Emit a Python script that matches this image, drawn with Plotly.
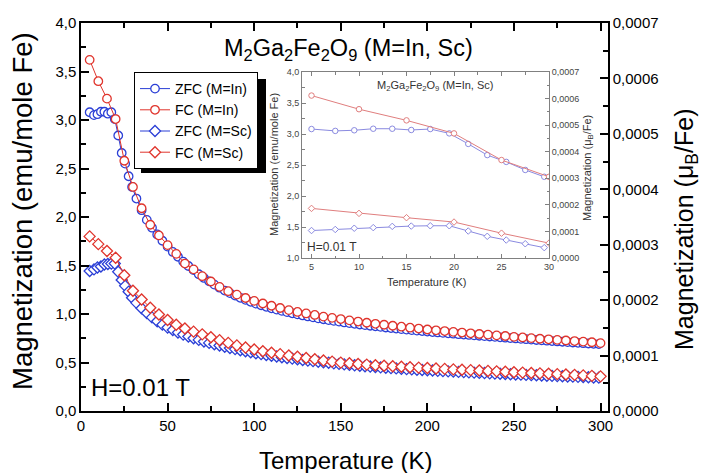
import plotly.graph_objects as go

# ---------------- data ----------------
T_fc = [5, 10, 15, 20, 25, 30, 35, 40, 45, 50, 55, 60, 65, 70, 75, 80, 85, 90, 95, 100,
        105, 110, 115, 120, 125, 130, 135, 140, 145, 150, 155, 160, 165, 170, 175, 180, 185, 190, 195, 200,
        205, 210, 215, 220, 225, 230, 235, 240, 245, 250, 255, 260, 265, 270, 275, 280, 285, 290, 295, 300]

fc_in = [3.62, 3.40, 3.22, 3.01, 2.58, 2.31, 2.09, 1.92, 1.81, 1.71, 1.62, 1.52, 1.46, 1.39, 1.335, 1.28, 1.235, 1.20, 1.165, 1.135,
         1.108, 1.085, 1.062, 1.040, 1.021, 1.006, 0.990, 0.973, 0.960, 0.948, 0.934, 0.922, 0.910, 0.899, 0.889, 0.879, 0.869, 0.859, 0.850, 0.840,
         0.832, 0.824, 0.816, 0.809, 0.801, 0.794, 0.787, 0.780, 0.773, 0.764, 0.758, 0.751, 0.745, 0.739, 0.733, 0.727, 0.721, 0.715, 0.709, 0.700]

fc_sc = [1.80, 1.72, 1.65, 1.58, 1.40, 1.24, 1.15, 1.065, 0.995, 0.938, 0.889, 0.850, 0.818, 0.790, 0.760, 0.730, 0.702, 0.676, 0.654, 0.634,
         0.616, 0.600, 0.586, 0.572, 0.559, 0.546, 0.533, 0.520, 0.509, 0.499, 0.492, 0.484, 0.478, 0.472, 0.466, 0.461, 0.456, 0.451, 0.447, 0.443,
         0.438, 0.434, 0.429, 0.425, 0.421, 0.417, 0.413, 0.409, 0.405, 0.400, 0.396, 0.392, 0.388, 0.384, 0.380, 0.376, 0.372, 0.367, 0.362, 0.357]

T_zfc = [5, 7.5, 9.5, 11.5, 13.5, 15.5, 17.5, 19.5, 21.5, 23.5, 25.5, 27.5, 29.5,
         32, 35, 38, 41, 44, 47, 50, 53, 56, 59,
         62, 65, 68, 71, 74, 77, 80, 83, 86, 89,
         92, 95, 98, 101, 104, 107, 110, 113, 116, 119,
         122, 125, 128, 131, 134, 137, 140, 143, 146, 149,
         152, 155, 158, 161, 164, 167, 170, 173, 176, 179,
         182, 185, 188, 191, 194, 197, 200, 203, 206, 209,
         212, 215, 218, 221, 224, 227, 230, 233, 236, 239,
         242, 245, 248, 251, 254, 257, 260, 263, 266, 269,
         272, 275, 278, 281, 284, 287, 290, 293, 296, 299]

zfc_in = [3.08, 3.05, 3.06, 3.085, 3.085, 3.065, 3.08, 3.01, 2.84, 2.66, 2.55, 2.42, 2.31,
          2.19, 2.07, 1.97, 1.89, 1.82, 1.755, 1.695, 1.64, 1.59, 1.54,
          1.495, 1.452, 1.41, 1.372, 1.337, 1.303, 1.271, 1.242, 1.215, 1.19,
          1.167, 1.146, 1.126, 1.107, 1.09, 1.074, 1.059, 1.045, 1.032, 1.019,
          1.007, 0.996, 0.985, 0.975, 0.965, 0.955, 0.946, 0.937, 0.929, 0.921,
          0.913, 0.906, 0.899, 0.892, 0.885, 0.879, 0.873, 0.867, 0.861, 0.855,
          0.85, 0.844, 0.839, 0.834, 0.829, 0.824, 0.819, 0.814, 0.81, 0.805,
          0.801, 0.797, 0.792, 0.788, 0.784, 0.78, 0.776, 0.772, 0.768, 0.764,
          0.76, 0.756, 0.752, 0.748, 0.744, 0.74, 0.736, 0.732, 0.728, 0.725,
          0.721, 0.717, 0.714, 0.71, 0.706, 0.703, 0.699, 0.696, 0.693, 0.69]

zfc_sc = [1.443, 1.46, 1.48, 1.49, 1.51, 1.515, 1.52, 1.52, 1.435, 1.35, 1.29, 1.23, 1.167,
          1.115, 1.06, 1.01, 0.965, 0.925, 0.89, 0.86, 0.835, 0.81, 0.788,
          0.768, 0.75, 0.733, 0.717, 0.702, 0.688, 0.675, 0.662, 0.65, 0.638,
          0.627, 0.616, 0.606, 0.596, 0.587, 0.578, 0.57, 0.562, 0.554, 0.547,
          0.54, 0.533, 0.526, 0.52, 0.514, 0.508, 0.502, 0.497, 0.491, 0.486,
          0.481, 0.476, 0.471, 0.467, 0.462, 0.458, 0.454, 0.45, 0.446, 0.442,
          0.439, 0.435, 0.432, 0.429, 0.426, 0.423, 0.42, 0.417, 0.414, 0.411,
          0.409, 0.406, 0.403, 0.401, 0.398, 0.396, 0.393, 0.391, 0.388, 0.386,
          0.384, 0.381, 0.379, 0.377, 0.375, 0.372, 0.37, 0.368, 0.366, 0.364,
          0.362, 0.36, 0.358, 0.356, 0.354, 0.352, 0.35, 0.348, 0.346, 0.344]

x_ticks = [0, 50, 100, 150, 200, 250, 300]
inset_x_ticks = [5, 10, 15, 20, 25, 30]
INSET_TMAX = 30

# ---------------- styling ----------------
FONT = "Liberation Sans, Arial, sans-serif"
BLUE = "#2b3fd6"
RED = "#e0342c"
IBLUE = "#8a8ae0"
IRED = "#e07e7e"
IGRAY = "#808080"

fig = go.Figure()

def main_trace(x, y, color, symbol, size, name):
    fig.add_trace(go.Scatter(
        x=x, y=y, name=name, mode="lines+markers",
        line=dict(color=color, width=1),
        marker=dict(symbol=symbol, size=size, color="white",
                    line=dict(color=color, width=1.3)),
        xaxis="x", yaxis="y"))

main_trace(T_zfc, zfc_in, BLUE, "circle", 8.5, "ZFC (M=In)")
main_trace(T_fc, fc_in, RED, "circle", 8.5, "FC (M=In)")
main_trace(T_zfc, zfc_sc, BLUE, "diamond", 8.5, "ZFC (M=Sc)")
main_trace(T_fc, fc_sc, RED, "diamond", 8.5, "FC (M=Sc)")

# helper so the right axes are drawn
fig.add_trace(go.Scatter(x=[None], y=[None], xaxis="x", yaxis="y2", showlegend=False, hoverinfo="skip"))
fig.add_trace(go.Scatter(x=[None], y=[None], xaxis="x3", yaxis="y4", showlegend=False, hoverinfo="skip"))

def sub(xs, ys):
    pts = [(a, b) for a, b in zip(xs, ys) if a <= INSET_TMAX]
    return [p[0] for p in pts], [p[1] for p in pts]

def inset_trace(x, y, color, symbol, size):
    xs, ys = sub(x, y)
    fig.add_trace(go.Scatter(
        x=xs, y=ys, mode="lines+markers", showlegend=False,
        line=dict(color=color, width=1),
        marker=dict(symbol=symbol, size=size, color="white",
                    line=dict(color=color, width=1)),
        xaxis="x3", yaxis="y3"))

inset_trace(T_zfc, zfc_in, IBLUE, "circle", 5.5)
inset_trace(T_fc, fc_in, IRED, "circle", 5.5)
inset_trace(T_zfc, zfc_sc, IBLUE, "diamond", 5)
inset_trace(T_fc, fc_sc, IRED, "diamond", 5)

L, R, T, B = 81, 93, 23, 62
W, H = 701, 473
pw, ph = W - L - R, H - T - B

def px(x):
    return (x - L) / pw

def py(y):
    return (H - B - y) / ph

tickfont = dict(family=FONT, size=15, color="black")
itick = dict(family=FONT, size=9, color="#444444")

fig.update_layout(
    width=W, height=H,
    margin=dict(l=L, r=R, t=T, b=B, autoexpand=False),
    paper_bgcolor="white", plot_bgcolor="white",
    separators=",.",
    font=dict(family=FONT, color="black"),
    showlegend=True,
    legend=dict(x=px(134), y=py(72), xanchor="left", yanchor="top",
                bgcolor="white", bordercolor="black", borderwidth=1,
                font=dict(family=FONT, size=14, color="black"),
                tracegroupgap=0, itemwidth=30),
    xaxis=dict(domain=[0, 1], range=[0, 304.3], anchor="y",
               tickvals=x_ticks, ticks="inside", ticklen=8, tickwidth=1.5,
               tickcolor="black", showline=True, linecolor="black", linewidth=1.5,
               mirror="ticks", showgrid=False, zeroline=False, tickfont=tickfont,
               minor=dict(tickvals=[25, 75, 125, 175, 225, 275], ticks="inside", ticklen=5,
                          tickwidth=1.5, tickcolor="black", showgrid=False)),
    yaxis=dict(domain=[0, 1], range=[0, 4], anchor="x",
               dtick=0.5, tick0=0, tickformat=".1f", ticks="inside", ticklen=8, tickwidth=1.5,
               tickcolor="black", showline=True, linecolor="black", linewidth=1.5,
               showgrid=False, zeroline=False, tickfont=tickfont,
               minor=dict(dtick=0.25, tick0=0, ticks="inside", ticklen=5, tickwidth=1.5,
                          tickcolor="black", showgrid=False)),
    yaxis2=dict(overlaying="y", side="right", anchor="x", range=[0, 0.0007],
                dtick=0.0001, tick0=0, tickformat=".4f", ticks="inside", ticklen=8, tickwidth=1.5,
                tickcolor="black", showline=True, linecolor="black", linewidth=1.5,
                showgrid=False, zeroline=False, tickfont=tickfont,
                minor=dict(dtick=0.00005, tick0=0, ticks="inside", ticklen=5, tickwidth=1.5,
                           tickcolor="black", showgrid=False)),
    xaxis3=dict(domain=[px(302), px(549)], range=[4, 30], anchor="y3",
                tickvals=inset_x_ticks, ticks="inside", ticklen=4, tickwidth=1,
                tickcolor=IGRAY, showline=True, linecolor=IGRAY, linewidth=1,
                mirror="ticks", showgrid=False, zeroline=False, tickfont=itick,
                minor=dict(tickvals=[7.5, 12.5, 17.5, 22.5, 27.5], ticks="inside", ticklen=2.5,
                           tickwidth=1, tickcolor=IGRAY, showgrid=False)),
    yaxis3=dict(domain=[py(258), py(72)], range=[1, 4], anchor="x3",
                dtick=0.5, tick0=0, tickformat=".1f", ticks="inside", ticklen=4, tickwidth=1,
                tickcolor=IGRAY, showline=True, linecolor=IGRAY, linewidth=1,
                showgrid=False, zeroline=False, tickfont=itick,
                minor=dict(dtick=0.25, tick0=0, ticks="inside", ticklen=2.5, tickwidth=1,
                           tickcolor=IGRAY, showgrid=False)),
    yaxis4=dict(overlaying="y3", side="right", anchor="x3", range=[0, 0.0007],
                dtick=0.0001, tick0=0, tickformat=".4f", ticks="inside", ticklen=4, tickwidth=1,
                tickcolor=IGRAY, showline=True, linecolor=IGRAY, linewidth=1,
                showgrid=False, zeroline=False, tickfont=itick,
                minor=dict(dtick=0.00005, tick0=0, ticks="inside", ticklen=2.5, tickwidth=1,
                           tickcolor=IGRAY, showgrid=False)),
)

# legend shadow
fig.add_shape(type="rect", xref="paper", yref="paper",
              x0=px(141), x1=px(266), y0=py(173), y1=py(79),
              fillcolor="black", line=dict(width=0), layer="below")

ann = []
def A(text, x, y, size, color="black", angle=0, xanchor="center", yanchor="middle"):
    ann.append(dict(text=text, x=px(x), y=py(y), xref="paper", yref="paper",
                    showarrow=False, textangle=angle, xanchor=xanchor, yanchor=yanchor,
                    font=dict(family=FONT, size=size, color=color)))

A("M<sub>2</sub>Ga<sub>2</sub>Fe<sub>2</sub>O<sub>9</sub> (M=In, Sc)", 348, 50, 23.5)
A("H=0.01 T", 89, 387, 24, xanchor="left")
A("Temperature (K)", 345, 460, 24)
A("Magnetization (emu/mole Fe)", 22, 211, 27.5, angle=-90)
A("Magnetization (μ<sub>B</sub>/Fe)", 686, 230, 25, angle=-90)

A("M<sub>2</sub>Ga<sub>2</sub>Fe<sub>2</sub>O<sub>9</sub> (M=In, Sc)", 435, 86, 11, color="#333333")
A("H=0.01 T", 305, 247, 12, color="#333333", xanchor="left")
A("Temperature (K)", 426, 282, 11, color="#333333")
A("Magnetization (emu/mole Fe)", 274, 165, 11, color="#333333", angle=-90)
A("Magnetization (μ<sub>B</sub>/Fe)", 588, 168, 11, color="#333333", angle=-90)

fig.update_layout(annotations=ann)

fig.write_html("out.html", config={"displayModeBar": False},
               post_script="document.body.style.margin='0px';document.body.style.overflow='hidden';")
